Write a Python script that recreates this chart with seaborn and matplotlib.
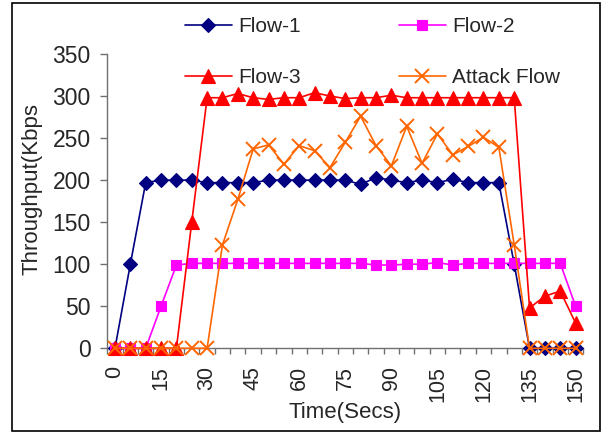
import numpy as np
import pandas as pd
import matplotlib
matplotlib.use("Agg")
import matplotlib.pyplot as plt
import matplotlib.patches as mpatches
import seaborn as sns

# ---- data ----
time_secs = list(range(0, 155, 5))
tick_labels = ["0", "15", "30", "45", "60", "75", "90", "105", "120", "135", "150"]
flow1 = [0, 100, 197, 200, 200, 200, 197, 197, 197, 197, 200, 200, 200, 200, 200, 200,
         195, 203, 200, 197, 200, 197, 201, 197, 197, 197, 100, 0, 0, 0, 0]
flow2 = [0, 0, 0, 50, 99, 101, 101, 101, 101, 101, 101, 101, 101, 101, 101, 101,
         101, 99, 99, 100, 100, 102, 99, 101, 101, 101, 101, 101, 101, 101, 50]
flow3 = [0, 0, 0, 0, 0, 150, 298, 298, 303, 298, 296, 298, 298, 304, 300, 297,
         298, 298, 301, 298, 298, 298, 298, 298, 298, 298, 298, 48, 62, 68, 30]
attack = [0, 0, 0, 0, 0, 0, 0, 123, 177, 237, 242, 219, 241, 235, 215, 245,
          276, 241, 217, 264, 220, 255, 230, 240, 251, 239, 123, 0, 0, 0, 0]

series_names = ["Flow-1", "Flow-2", "Flow-3", "Attack Flow"]

sns.set_style("white")
plt.rcParams["font.family"] = ["Liberation Sans", "DejaVu Sans"]

fig = plt.figure(figsize=(6.02, 4.34), dpi=100)
ax = fig.add_axes([107.3 / 602, 1 - 348.3 / 434, (583.3 - 107.3) / 602, (348.3 - 54) / 434])

pos = np.arange(len(time_secs))
df = pd.DataFrame({"pos": pos, "Flow-1": flow1, "Flow-2": flow2,
                   "Flow-3": flow3, "Attack Flow": attack})

styles = {
    "Flow-1": dict(color="#000080", marker="D", markersize=7.5, markeredgewidth=0.8),
    "Flow-2": dict(color="#FF00FF", marker="s", markersize=7.5, markeredgewidth=0.8),
    "Flow-3": dict(color="#FF0000", marker="^", markersize=9.5, markeredgewidth=0.8),
    "Attack Flow": dict(color="#FF6600", marker="x", markersize=9.5, markeredgewidth=1.4),
}
for name in series_names:
    st = styles[name]
    sns.lineplot(data=df, x="pos", y=name, ax=ax, label=name, color=st["color"],
                 marker=st["marker"], markersize=st["markersize"],
                 markeredgecolor=st["color"], markerfacecolor=st["color"],
                 markeredgewidth=st["markeredgewidth"], linewidth=1.2,
                 clip_on=False, zorder=3)

ax.set_xlim(-0.5, len(time_secs) - 0.5)
ax.set_ylim(0, 350)
ax.set_yticks(range(0, 351, 50))
ax.set_xticks(pos[::3])
ax.set_xticklabels(tick_labels, rotation=90)
ax.set_xticks(np.arange(-0.5, len(time_secs), 1.0), minor=True)

axis_col = "#707070"
for s in ["top", "right"]:
    ax.spines[s].set_visible(False)
for s in ["left", "bottom"]:
    ax.spines[s].set_color(axis_col)
    ax.spines[s].set_linewidth(1.0)

ax.tick_params(axis="y", which="major", direction="out", length=5, width=1,
               color=axis_col, labelsize=16.5, pad=7, left=True)
ax.tick_params(axis="x", which="major", length=0, labelsize=15.5, pad=13, bottom=True)
ax.tick_params(axis="x", which="minor", direction="out", length=4.5, width=1,
               color=axis_col, bottom=True)

ax.set_xlabel("Time(Secs)", fontsize=16, labelpad=0)
ax.set_ylabel("")
fig.text(32 / 602, 1 - 189 / 434, "Throughput(Kbps", rotation=90, fontsize=16,
         ha="center", va="center")

handles, labels = ax.get_legend_handles_labels()
hmap = dict(zip(labels, handles))
order = ["Flow-1", "Flow-3", "Flow-2", "Attack Flow"]
ax.legend([hmap[k] for k in order], order, ncol=2, frameon=False, fontsize=15,
          loc="upper left", bbox_to_anchor=(185 / 602, 1 - 17 / 434),
          bbox_transform=fig.transFigure, borderpad=0, borderaxespad=0,
          handlelength=2.25, handletextpad=0.3, columnspacing=4.7,
          labelspacing=1.55)

fig.patches.append(mpatches.Rectangle((12 / 602, 1 - 431 / 434), (600 - 12) / 602,
                                      (431 - 3) / 434, transform=fig.transFigure,
                                      fill=False, edgecolor="black", linewidth=1.2))

fig.savefig("out.png", dpi=100)
